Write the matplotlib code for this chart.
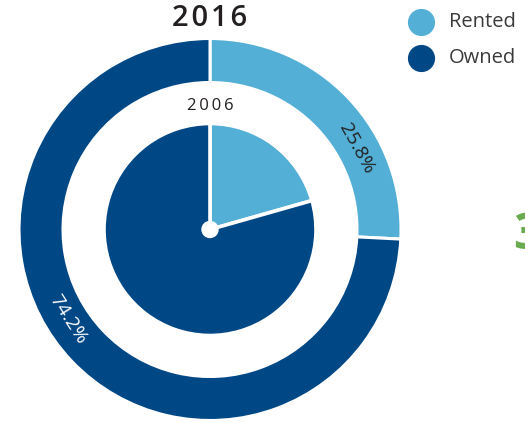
import math

import matplotlib.pyplot as plt

# ---------------------------------------------------------------------------
# Data
# ---------------------------------------------------------------------------
categories = ["Rented", "Owned"]
share_2016 = [25.8, 74.2]
share_2006 = [20.6, 79.4]
labels_2016 = ["25.8%", "74.2%"]
outer_title = "2016"
inner_title = "2006"

colors = {"Rented": "#53AFD6", "Owned": "#004785"}
green = "#6AAB4F"

# ---------------------------------------------------------------------------
# Plot (axes in pixel units, y up)
# ---------------------------------------------------------------------------
W, H = 525, 422
cx, cy = 210, H - 229.5

plt.rcParams["font.family"] = ["Open Sans", "DejaVu Sans"]
fig = plt.figure(figsize=(W / 100, H / 100), dpi=100)
ax = fig.add_axes([0, 0, 1, 1])

pie_colors = [colors[c] for c in categories]
ax.pie(share_2016, startangle=90, counterclock=False, radius=191, center=(cx, cy),
       colors=pie_colors, wedgeprops=dict(width=44, edgecolor="white", linewidth=2.2))
ax.pie(share_2006, startangle=90, counterclock=False, radius=106, center=(cx, cy),
       colors=pie_colors, wedgeprops=dict(edgecolor="white", linewidth=2.6))
ax.add_patch(plt.Circle((cx, cy), 8, color="white", zorder=5))

ax.set_xlim(0, W)
ax.set_ylim(0, H)
ax.set_aspect("equal")
ax.axis("off")

label_angles = [28.9, 212.5]
label_colors = ["#222222", "white"]
for lab, ang, col in zip(labels_2016, label_angles, label_colors):
    r = 168
    x = cx + r * math.cos(math.radians(ang))
    y = cy + r * math.sin(math.radians(ang))
    rot = ang - 90 if ang < 180 else ang - 270
    ax.text(x, y, lab, rotation=rot, rotation_mode="anchor", ha="center", va="center",
            fontsize=14, color=col)

# letter-spaced titles
ax.text(cx, H - 19, "\u200a".join(outer_title), ha="center", va="center", fontsize=21,
        fontweight="semibold", color="#231F20")
ax.text(cx, H - 106, "\u2009".join(inner_title), ha="center", va="center", fontsize=12,
        color="#231F20")

# legend
for i, c in enumerate(categories):
    ly = H - 22 - i * 36
    ax.scatter([421], [ly], s=25 ** 2 * 0.55, color=colors[c], zorder=6)
    ax.text(449, ly, c, ha="left", va="center", fontsize=14.5, color="#3A3A3A")

# cut-off number at right edge
ax.text(513, H - 236, "3", ha="left", va="center", fontsize=36, fontweight="bold",
        color=green)

fig.savefig("out.png", dpi=100)
